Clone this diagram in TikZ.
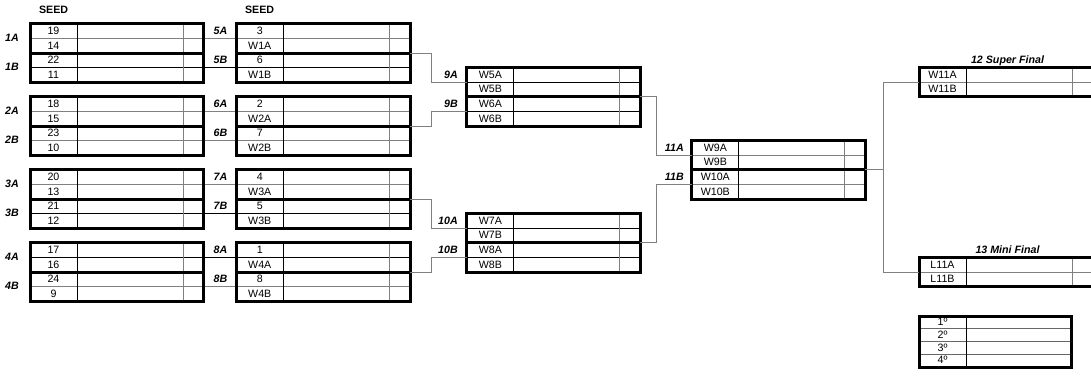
\documentclass[tikz,border=0pt]{standalone}
\usepackage{fontspec}
\setmainfont{Liberation Sans}
\newcommand\yy[1]{(23.8+14.6*(#1))}
% #1 name, #2 left x, #3 first row, #4 number of rows
\newcommand\bgrid[4]{%
  \draw[ln,draw=black] ({#2+47},{\yy{#3}}) -- ({#2+47},{\yy{#3+#4}});
  \draw[ln,draw=black!50] ({#2+153},{\yy{#3}}) -- ({#2+153},{\yy{#3+#4}});
  \node[boxn, minimum height={#4*14.6*0.75pt}] (#1) at (#2,{\yy{#3}}) {};
}
\begin{document}
\begin{tikzpicture}[x=0.75pt,y=-0.75pt,
  boxn/.style={draw, line width=2.25pt, rectangle, inner sep=0pt, outer sep=0pt,
    anchor=north west, minimum width=130.125pt},
  thk/.style={line width=2.25pt},
  ln/.style={line width=0.75pt},
  conn/.style={line width=0.75pt, draw=black!50},
  cell/.style={font=\fontsize{8}{9.6}\selectfont, inner sep=0pt, anchor=base},
  lbl/.style={font=\fontsize{8}{9.6}\selectfont\bfseries\itshape, inner sep=0pt, anchor=base east},
  lblc/.style={font=\fontsize{8}{9.6}\selectfont\bfseries\itshape, inner sep=0pt, anchor=base},
  seed/.style={font=\fontsize{8}{9.6}\selectfont\bfseries, inner sep=0pt, anchor=base},
]
\useasboundingbox (0,0) rectangle (1091,376);
\clip (0,0) rectangle (1091,376);

% ---------- row separators ----------
\foreach \r/\c in {1/black!50,3/black,6/black!50,8/black!50,11/black!50,13/black,16/black,18/black!50}
  \draw[ln,draw=\c] (30,{\yy{\r}}) -- (410.5,{\yy{\r}});
\foreach \r in {4,6,14,16}
  \draw[ln,draw=black] (466.7,{\yy{\r}}) -- (640.2,{\yy{\r}});
\foreach \r in {9,11}
  \draw[ln,draw=black!50] (691.7,{\yy{\r}}) -- (865.2,{\yy{\r}});
\foreach \r in {4,17}
  \draw[ln,draw=black!50] (919.3,{\yy{\r}}) -- (1092.8,{\yy{\r}});

% ---------- boxes ----------
\foreach \k [count=\i] in {0,5,10,15} {
  \bgrid{ra\i}{30}{\k}{4}
  \bgrid{rb\i}{236.5}{\k}{4}
  \draw[thk] (30,{\yy{\k+2}}) -- (203.5,{\yy{\k+2}});
  \draw[thk] (236.5,{\yy{\k+2}}) -- (410,{\yy{\k+2}});
}
\bgrid{qa}{466.7}{3}{4}
\bgrid{qb}{466.7}{13}{4}
\draw[thk] (466.7,{\yy{5}}) -- (640.2,{\yy{5}});
\draw[thk] (466.7,{\yy{15}}) -- (640.2,{\yy{15}});
\bgrid{sf}{691.7}{8}{4}
\draw[thk] (691.7,{\yy{10}}) -- (865.2,{\yy{10}});
\bgrid{fin}{919.3}{3}{2}
\bgrid{mini}{919.3}{16}{2}

% ---------- placement table ----------
\foreach \r in {1,2,3}
  \draw[ln,draw=black!60] (919.3,{316+12.75*\r}) -- (1071.7,{316+12.75*\r});
\draw[ln,draw=black] (966,316) -- (966,367);
\node[boxn, minimum width=114.3pt, minimum height=38.25pt] (place) at (919.3,316) {};
\foreach \t [count=\j from 0] in {1º,2º,3º,4º}
  \node[cell] (p\j) at (942.6,{316+12.75*(\j+0.5)+3.3}) {\t};

% ---------- connectors ----------
\coordinate (k9a) at (431.7,{\yy{4}});
\coordinate (k9b) at (431.7,{\yy{6}});
\coordinate (k10a) at (431.7,{\yy{14}});
\coordinate (k10b) at (431.7,{\yy{16}});
\coordinate (in9a) at (466.7,{\yy{4}});
\coordinate (in9b) at (466.7,{\yy{6}});
\coordinate (in10a) at (466.7,{\yy{14}});
\coordinate (in10b) at (466.7,{\yy{16}});
\draw[conn] (rb1.east) -| (k9a) -- (in9a);
\draw[conn] (rb2.east) -| (k9b) -- (in9b);
\draw[conn] (rb3.east) -| (k10a) -- (in10a);
\draw[conn] (rb4.east) -| (k10b) -- (in10b);
\coordinate (k11a) at (656.7,{\yy{9}});
\coordinate (k11b) at (656.7,{\yy{11}});
\coordinate (in11a) at (691.7,{\yy{9}});
\coordinate (in11b) at (691.7,{\yy{11}});
\draw[conn] (qa.east) -| (k11a) -- (in11a);
\draw[conn] (qb.east) -| (k11b) -- (in11b);
\coordinate (jn) at (883.3,{\yy{10}});
\coordinate (in12) at (919.3,{\yy{4}});
\coordinate (in13) at (919.3,{\yy{17}});
\draw[conn] (sf.east) -- (jn);
\draw[conn] (in12) -| (jn) |- (in13);

% ---------- cell texts ----------
\foreach \t [count=\j from 0] in {19,14,22,11,18,15,23,10,20,13,21,12,17,16,24,9} {
  \pgfmathtruncatemacro\r{\j+int(\j/4)}
  \node[cell] (ta\j) at (53.5,{\yy{\r+0.5}+3.3}) {\t};
}
\foreach \t [count=\j from 0] in {3,W1A,6,W1B,2,W2A,7,W2B,4,W3A,5,W3B,1,W4A,8,W4B} {
  \pgfmathtruncatemacro\r{\j+int(\j/4)}
  \node[cell] (tb\j) at (259.8,{\yy{\r+0.5}+3.3}) {\t};
}
\foreach \t/\r [count=\j] in {W5A/3,W5B/4,W6A/5,W6B/6,W7A/13,W7B/14,W8A/15,W8B/16}
  \node[cell] (tc\j) at (490.3,{\yy{\r+0.5}+3.3}) {\t};
\foreach \t/\r [count=\j] in {W9A/8,W9B/9,W10A/10,W10B/11}
  \node[cell] (td\j) at (715.3,{\yy{\r+0.5}+3.3}) {\t};
\foreach \t/\r [count=\j] in {W11A/3,W11B/4,L11A/16,L11B/17}
  \node[cell] (te\j) at (942.5,{\yy{\r+0.5}+3.3}) {\t};

% ---------- labels ----------
\node[seed] (seed1) at (53.6,13.8) {SEED};
\node[seed] (seed2) at (259.6,13.8) {SEED};
\foreach \t/\r [count=\j] in {1A/1,1B/3,2A/6,2B/8,3A/11,3B/13,4A/16,4B/18}
  \node[lblc] (la\j) at (12,{\yy{\r}+3.3}) {\t};
\foreach \t/\r [count=\j] in {5A/0,5B/2,6A/5,6B/7,7A/10,7B/12,8A/15,8B/17}
  \node[lbl] (lb\j) at (227.5,{\yy{\r+0.5}+3.3}) {\t};
\foreach \t/\r [count=\j] in {9A/3,9B/5,10A/13,10B/15}
  \node[lbl] (lc\j) at (458,{\yy{\r+0.5}+3.3}) {\t};
\foreach \t/\r [count=\j] in {11A/8,11B/10}
  \node[lbl] (ld\j) at (684,{\yy{\r+0.5}+3.3}) {\t};
\node[lblc] (t12) at (1007.5,{\yy{2.5}+3.3}) {12 Super Final};
\node[lblc] (t13) at (1007.5,{\yy{15.5}+3.3}) {13 Mini Final};
\end{tikzpicture}
\end{document}
